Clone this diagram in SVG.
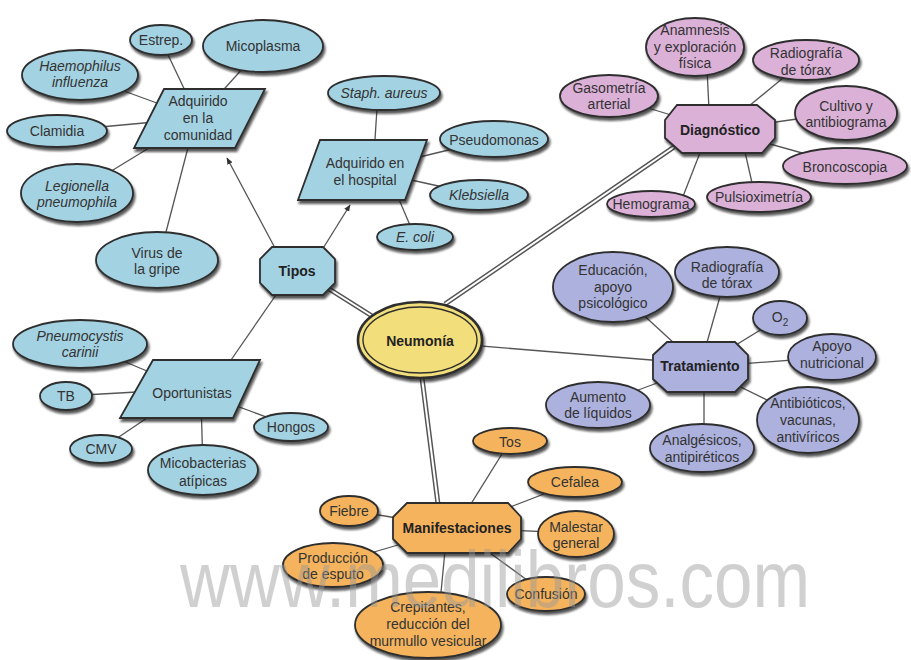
<svg xmlns="http://www.w3.org/2000/svg" width="911" height="660" viewBox="0 0 911 660">
<defs>
<filter id="sh" x="-20%" y="-20%" width="140%" height="160%">
<feDropShadow dx="1.5" dy="3" stdDeviation="1.2" flood-color="#111" flood-opacity="0.7"/>
</filter>
<marker id="arr" viewBox="0 0 10 10" refX="9" refY="5" markerWidth="7" markerHeight="7" orient="auto" markerUnits="userSpaceOnUse">
<path d="M0,1 L10,5 L0,9 z" fill="#333"/>
</marker>
<style>
.b{fill:#a3d2e2;stroke:#2e2e2e;stroke-width:1.8;filter:url(#sh)}
.p{fill:#dbb1d8;stroke:#2e2e2e;stroke-width:1.8;filter:url(#sh)}
.l{fill:#adb1de;stroke:#2e2e2e;stroke-width:1.8;filter:url(#sh)}
.o{fill:#f5b35d;stroke:#2e2e2e;stroke-width:1.8;filter:url(#sh)}
.y{fill:#f2de7a;stroke:#2e2e2e;stroke-width:2.6;filter:url(#sh)}
.c{stroke:#555;stroke-width:1.3;fill:none}
.d1{stroke:#555;stroke-width:5;fill:none}
.d2{stroke:#fff;stroke-width:2;fill:none}
text{font-family:"Liberation Sans",Arial,sans-serif;font-size:14px;fill:#333;text-anchor:middle}
.i{font-style:italic}
.t{font-weight:bold;fill:#222}
.wm{font-size:80px;fill:#999;opacity:0.45;text-anchor:start}
</style>
</defs>
<rect width="911" height="660" fill="#fff"/>

<g id="connectors">
<line class="c" x1="198" y1="118" x2="161" y2="40"/>
<line class="c" x1="198" y1="118" x2="263" y2="46"/>
<line class="c" x1="198" y1="118" x2="80" y2="75"/>
<line class="c" x1="198" y1="118" x2="57" y2="131"/>
<line class="c" x1="198" y1="118" x2="77" y2="192"/>
<line class="c" x1="190" y1="140" x2="160" y2="255"/>
<line class="c" x1="373" y1="170" x2="378" y2="93"/>
<line class="c" x1="366" y1="170" x2="494" y2="139"/>
<line class="c" x1="366" y1="170" x2="479" y2="195"/>
<line class="c" x1="395" y1="190" x2="415" y2="237"/>
<line class="c" x1="275" y1="248" x2="227" y2="158" marker-end="url(#arr)"/>
<line class="c" x1="322" y1="250" x2="350" y2="205" marker-end="url(#arr)"/>
<line class="c" x1="278" y1="292" x2="231" y2="360"/>
<line class="c" x1="710" y1="130" x2="706" y2="48"/>
<line class="c" x1="720" y1="130" x2="806" y2="59"/>
<line class="c" x1="720" y1="130" x2="609" y2="96"/>
<line class="c" x1="720" y1="130" x2="846" y2="112"/>
<line class="c" x1="720" y1="130" x2="845" y2="165"/>
<line class="c" x1="740" y1="130" x2="755" y2="196"/>
<line class="c" x1="705" y1="140" x2="680" y2="204"/>
<line class="c" x1="700" y1="367" x2="613" y2="287"/>
<line class="c" x1="700" y1="367" x2="727" y2="272"/>
<line class="c" x1="700" y1="367" x2="780" y2="318"/>
<line class="c" x1="700" y1="367" x2="832" y2="357"/>
<line class="c" x1="700" y1="367" x2="808" y2="420"/>
<line class="c" x1="704" y1="367" x2="704" y2="448"/>
<line class="c" x1="700" y1="367" x2="598" y2="405"/>
<line class="c" x1="456" y1="528" x2="510" y2="441"/>
<line class="c" x1="456" y1="528" x2="575" y2="482"/>
<line class="c" x1="456" y1="528" x2="349" y2="510"/>
<line class="c" x1="456" y1="528" x2="576" y2="533"/>
<line class="c" x1="456" y1="528" x2="333" y2="564"/>
<line class="c" x1="456" y1="528" x2="546" y2="594"/>
<line class="c" x1="446" y1="540" x2="438" y2="624"/>
<line class="c" x1="190" y1="389" x2="80" y2="343"/>
<line class="c" x1="190" y1="389" x2="66" y2="396"/>
<line class="c" x1="190" y1="389" x2="101" y2="449"/>
<line class="c" x1="201" y1="400" x2="203" y2="470"/>
<line class="c" x1="190" y1="389" x2="291" y2="426"/>
<line class="c" x1="420" y1="341" x2="700" y2="364"/>
<path class="d1" d="M326,287 L372,316 M445,304 L674,147 M422,378 L438,504"/>
<path class="d2" d="M326,287 L372,316 M445,304 L674,147 M422,378 L438,504"/>
</g>

<g id="tipos"><polygon class="b" points="272,247 323,247 335,259 335,283 323,295 272,295 260,283 260,259"/><text class="t" x="297" y="276">Tipos</text></g>
<g id="comunidad"><polygon class="b" points="164,89 265,89 235,148 134,148"/><text x="198" y="106">Adquirido</text><text x="198" y="123">en la</text><text x="198" y="140">comunidad</text></g>
<g id="estrep"><ellipse class="b" cx="161" cy="40" rx="31" ry="15"/><text x="161" y="45">Estrep.</text></g>
<g id="micoplasma"><ellipse class="b" cx="263" cy="46" rx="60" ry="26"/><text x="263" y="51">Micoplasma</text></g>
<g id="haemophilus"><ellipse class="b" cx="80" cy="75" rx="58" ry="25"/><text class="i" x="80" y="71">Haemophilus</text><text class="i" x="80" y="87">influenza</text></g>
<g id="clamidia"><ellipse class="b" cx="57" cy="131" rx="50" ry="16"/><text x="57" y="136">Clamidia</text></g>
<g id="legionella"><ellipse class="b" cx="77" cy="193" rx="56" ry="29"/><text class="i" x="77" y="191">Legionella</text><text class="i" x="77" y="207">pneumophila</text></g>
<g id="virus"><ellipse class="b" cx="157" cy="260" rx="61" ry="28"/><text x="157" y="258">Virus de</text><text x="157" y="274">la gripe</text></g>

<g id="hospital"><polygon class="b" points="320,140 427,140 405,200 298,200"/><text x="365" y="168">Adquirido en</text><text x="365" y="185">el hospital</text></g>
<g id="staph"><ellipse class="b" cx="384" cy="93" rx="56" ry="17"/><text class="i" x="384" y="98">Staph. aureus</text></g>
<g id="pseudomonas"><ellipse class="b" cx="494" cy="139" rx="54" ry="18"/><text x="494" y="145">Pseudomonas</text></g>
<g id="klebsiella"><ellipse class="b" cx="479" cy="195" rx="49" ry="15"/><text class="i" x="479" y="200">Klebsiella</text></g>
<g id="ecoli"><ellipse class="b" cx="415" cy="237" rx="38" ry="13"/><text class="i" x="415" y="242">E. coli</text></g>

<g id="oportunistas"><polygon class="b" points="153,360 260,360 233,418 120,418"/><text x="192" y="398">Oportunistas</text></g>
<g id="pneumocystis"><ellipse class="b" cx="80" cy="344" rx="67" ry="24"/><text class="i" x="80" y="341">Pneumocystis</text><text class="i" x="80" y="357">carinii</text></g>
<g id="tb"><ellipse class="b" cx="66" cy="396" rx="26" ry="14"/><text x="66" y="401">TB</text></g>
<g id="cmv"><ellipse class="b" cx="101" cy="449" rx="31" ry="14"/><text x="101" y="454">CMV</text></g>
<g id="hongos"><ellipse class="b" cx="291" cy="427" rx="37" ry="14"/><text x="291" y="432">Hongos</text></g>
<g id="micobacterias"><ellipse class="b" cx="203" cy="470" rx="55" ry="25"/><text x="203" y="468">Micobacterias</text><text x="203" y="486">atípicas</text></g>

<g id="diagnostico"><polygon class="p" points="677,105 757,105 775,120 775,138 762,153 682,153 665,138 665,120"/><text class="t" x="720" y="135">Diagnóstico</text></g>
<g id="anamnesis"><ellipse class="p" cx="695" cy="47" rx="49" ry="29"/><text x="695" y="35" font-size="13.5">Anamnesis</text><text x="695" y="52" font-size="13.5">y exploración</text><text x="695" y="68" font-size="13.5">física</text></g>
<g id="radiografia1"><ellipse class="p" cx="806" cy="60" rx="53" ry="20"/><text x="806" y="58">Radiografía</text><text x="806" y="75">de tórax</text></g>
<g id="gasometria"><ellipse class="p" cx="609" cy="96" rx="49" ry="21"/><text x="609" y="93">Gasometría</text><text x="609" y="109">arterial</text></g>
<g id="cultivo"><ellipse class="p" cx="846" cy="113" rx="51" ry="27"/><text x="846" y="111">Cultivo y</text><text x="846" y="127">antibiograma</text></g>
<g id="broncoscopia"><ellipse class="p" cx="845" cy="166" rx="62" ry="18"/><text x="845" y="172">Broncoscopia</text></g>
<g id="pulsioximetria"><ellipse class="p" cx="759" cy="197" rx="52" ry="15"/><text x="759" y="202">Pulsioximetría</text></g>
<g id="hemograma"><ellipse class="p" cx="651" cy="204" rx="44" ry="13"/><text x="651" y="209">Hemograma</text></g>

<g id="tratamiento"><polygon class="l" points="667,342 735,342 748,355 748,379 735,392 667,392 653,379 653,355"/><text class="t" x="700" y="371">Tratamiento</text></g>
<g id="educacion"><ellipse class="l" cx="613" cy="287" rx="60" ry="35"/><text x="613" y="275">Educación,</text><text x="613" y="292">apoyo</text><text x="613" y="308">psicológico</text></g>
<g id="radiografia2"><ellipse class="l" cx="727" cy="272" rx="52" ry="25"/><text x="727" y="272">Radiografía</text><text x="727" y="288">de tórax</text></g>
<g id="o2"><ellipse class="l" cx="780" cy="318" rx="27" ry="17"/><text x="780" y="322">O<tspan font-size="10" dy="4">2</tspan></text></g>
<g id="apoyo"><ellipse class="l" cx="832" cy="357" rx="44" ry="23"/><text x="832" y="351">Apoyo</text><text x="832" y="368">nutricional</text></g>
<g id="aumento"><ellipse class="l" cx="598" cy="405" rx="52" ry="23"/><text x="598" y="402">Aumento</text><text x="598" y="418">de líquidos</text></g>
<g id="analgesicos"><ellipse class="l" cx="702" cy="448" rx="52" ry="24"/><text x="702" y="445">Analgésicos,</text><text x="702" y="462">antipiréticos</text></g>
<g id="antibioticos"><ellipse class="l" cx="808" cy="420" rx="51" ry="33"/><text x="808" y="408">Antibióticos,</text><text x="808" y="425">vacunas,</text><text x="808" y="442">antivíricos</text></g>

<g id="manifestaciones"><polygon class="o" points="407,503 508,503 521,517 521,539 508,553 407,553 393,539 393,517"/><text class="t" x="457" y="533">Manifestaciones</text></g>
<g id="tos"><ellipse class="o" cx="510" cy="441" rx="37" ry="13"/><text x="510" y="447">Tos</text></g>
<g id="cefalea"><ellipse class="o" cx="575" cy="482" rx="47" ry="15"/><text x="575" y="487">Cefalea</text></g>
<g id="fiebre"><ellipse class="o" cx="349" cy="511" rx="29" ry="15"/><text x="349" y="516">Fiebre</text></g>
<g id="malestar"><ellipse class="o" cx="576" cy="534" rx="38" ry="23"/><text x="576" y="532">Malestar</text><text x="576" y="548">general</text></g>
<g id="produccion"><ellipse class="o" cx="333" cy="565" rx="50" ry="22"/><text x="333" y="563">Producción</text><text x="333" y="579">de esputo</text></g>
<g id="confusion"><ellipse class="o" cx="546" cy="594" rx="39" ry="17"/><text x="546" y="599">Confusión</text></g>
<g id="crepitantes"><ellipse class="o" cx="428" cy="625" rx="73" ry="33"/><text x="428" y="612">Crepitantes,</text><text x="428" y="629">reducción del</text><text x="428" y="646">murmullo vesicular</text></g>

<g id="neumonia"><ellipse class="y" cx="420" cy="340" rx="62" ry="38"/><ellipse cx="420" cy="340" rx="57" ry="33" fill="none" stroke="#2e2e2e" stroke-width="1.4"/><text class="t" x="420" y="346" font-size="15">Neumonía</text></g>

<text class="wm" x="180" y="607" textLength="630" lengthAdjust="spacingAndGlyphs">www.medilibros.com</text>
</svg>
